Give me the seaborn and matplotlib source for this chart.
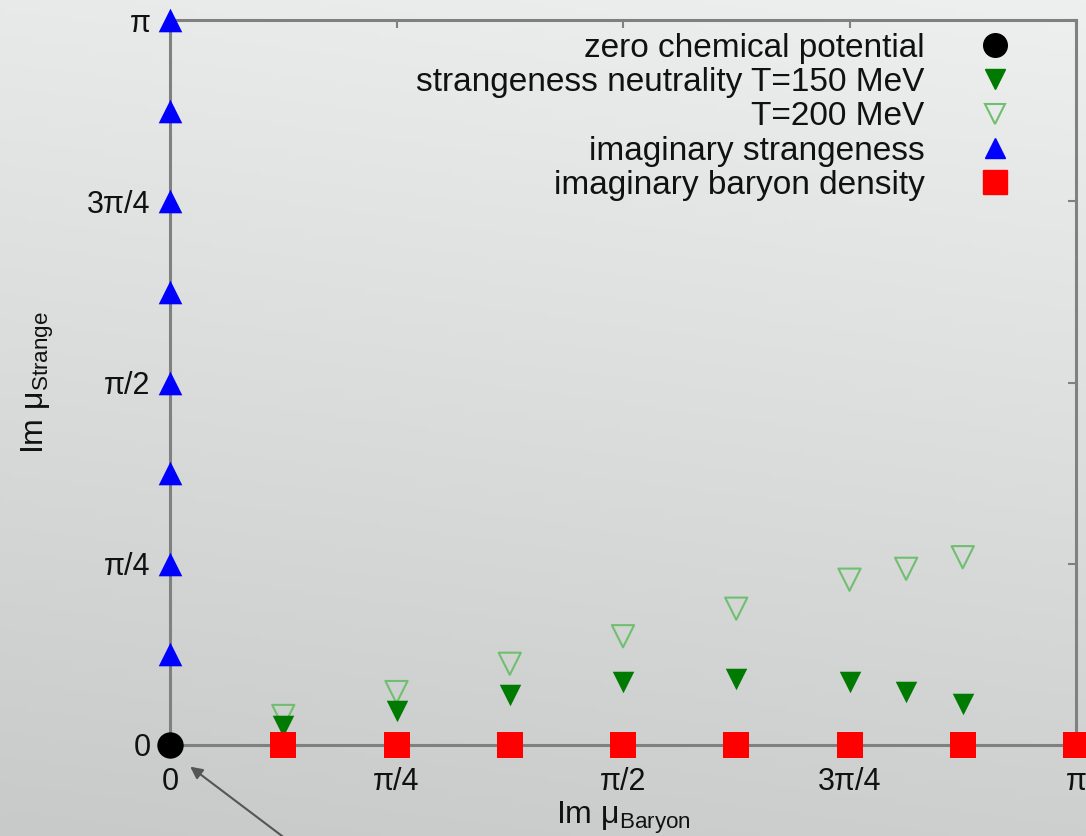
import numpy as np
import pandas as pd
import matplotlib
matplotlib.use("Agg")
import matplotlib.pyplot as plt
import seaborn as sns
from matplotlib.lines import Line2D

PI = np.pi

# ---- data (in units of pi) ----
zero_x = [0.0]
zero_y = [0.0]

sn150_x = [1/8, 2/8, 3/8, 4/8, 5/8, 6/8, 13/16, 7/8]
sn150_y = [0.026, 0.047, 0.069, 0.087, 0.091, 0.087, 0.073, 0.057]

sn200_x = [1/8, 2/8, 3/8, 4/8, 5/8, 6/8, 13/16, 7/8]
sn200_y = [0.040, 0.073, 0.112, 0.150, 0.188, 0.228, 0.243, 0.259]

imS_x = [0, 0, 0, 0, 0, 0, 0, 0]
imS_y = [1/8, 2/8, 3/8, 4/8, 5/8, 6/8, 7/8, 1.0]

imB_x = [1/8, 2/8, 3/8, 4/8, 5/8, 6/8, 7/8, 1.0]
imB_y = [0, 0, 0, 0, 0, 0, 0, 0]

tick_vals = [0, 0.25, 0.5, 0.75, 1.0]
tick_labels = ["0", "π/4", "π/2", "3π/4", "π"]

legend_labels = ["zero chemical potential",
                 "strangeness neutrality T=150 MeV",
                 "T=200 MeV",
                 "imaginary strangeness",
                 "imaginary baryon density"]

sns.set_theme(style="white")
plt.rcParams["font.family"] = ["Liberation Sans", "DejaVu Sans"]

W, H = 1086, 836
fig = plt.figure(figsize=(W / 100, H / 100), dpi=100)

# background gradient
bg = fig.add_axes([0, 0, 1, 1], zorder=-10)
yy = np.linspace(0, 1, 200)[:, None]
xx = np.linspace(0, 1, 200)[None, :]
top = np.array([238, 239, 239]) / 255
bot = np.array([200, 202, 202]) / 255
t = np.clip(yy * 0.85 + (1 - xx) * 0.15, 0, 1)
img = top[None, None, :] * (1 - t[..., None]) + bot[None, None, :] * t[..., None]
bg.imshow(img, aspect="auto", extent=[0, 1, 0, 1])
bg.axis("off")

ax = fig.add_axes([170 / W, 1 - 745 / H, (1076 - 170) / W, (745 - 20) / H])
ax.set_facecolor("none")

def df(x, y):
    return pd.DataFrame({"x": np.array(x) * PI, "y": np.array(y) * PI})

green = "#007a00"
light_green = "#6fbf6f"
sns.scatterplot(data=df(imB_x, imB_y), x="x", y="y", ax=ax, marker="s",
                s=19 ** 2, color="#ff0000", edgecolor="#ff0000", linewidth=0,
                clip_on=False, zorder=5)
sns.scatterplot(data=df(imS_x, imS_y), x="x", y="y", ax=ax, marker="^",
                s=17 ** 2, color="#0000ff", edgecolor="#0000ff", linewidth=0,
                clip_on=False, zorder=5)
sns.scatterplot(data=df(sn200_x, sn200_y), x="x", y="y", ax=ax, marker="v",
                s=16 ** 2, facecolor="none", edgecolor=light_green, linewidth=1.5,
                clip_on=False, zorder=4)
sns.scatterplot(data=df(sn150_x, sn150_y), x="x", y="y", ax=ax, marker="v",
                s=15.5 ** 2, color=green, edgecolor=green, linewidth=0,
                clip_on=False, zorder=4)
sns.scatterplot(data=df(zero_x, zero_y), x="x", y="y", ax=ax, marker="o",
                s=19 ** 2, color="black", edgecolor="black", linewidth=0,
                clip_on=False, zorder=6)

ax.set_xlim(0, PI)
ax.set_ylim(0, PI)
ticks = [v * PI for v in tick_vals]
ax.set_xticks(ticks)
ax.set_xticklabels(tick_labels)
ax.set_yticks(ticks)
ax.set_yticklabels(tick_labels)
ax.tick_params(axis="both", direction="in", length=6, width=1.5, color="#808080",
               labelsize=22, labelcolor="#111111", top=True, right=True,
               pad=14)
ax.tick_params(axis="x", pad=16)
for side in ["left", "bottom", "top", "right"]:
    ax.spines[side].set_color("#808080")
    ax.spines[side].set_linewidth(2.2)
    ax.spines[side].set_zorder(2)

ax.set_xlabel(r"Im $\mathregular{\mu_{Baryon}}$", fontsize=23, color="#111111",
              labelpad=2)
ax.set_ylabel(r"Im $\mathregular{\mu_{Strange}}$", fontsize=23, color="#111111",
              labelpad=22)

handles = [
    Line2D([], [], ls="none", marker="o", ms=17, color="black", mec="black"),
    Line2D([], [], ls="none", marker="v", ms=14, color=green, mec=green),
    Line2D([], [], ls="none", marker="v", ms=14, mfc="none", mec=light_green, mew=1.5),
    Line2D([], [], ls="none", marker="^", ms=15, color="#0000ff", mec="#0000ff"),
    Line2D([], [], ls="none", marker="s", ms=17, color="#ff0000", mec="#ff0000"),
]
leg = ax.legend(handles, legend_labels, loc="upper right", markerfirst=False,
                frameon=False, fontsize=24, labelspacing=0.1,
                handlelength=1.0, handletextpad=1.6, borderpad=0,
                bbox_to_anchor=(1028 / W, 1 - 16 / H),
                bbox_transform=fig.transFigure)
for txt in leg.get_texts():
    txt.set_color("#111111")

ax.annotate("", xy=(188, H - 765), xytext=(290, -6), xycoords="figure pixels",
            textcoords="figure pixels",
            arrowprops=dict(arrowstyle="-|>", color="#555555", lw=1.5,
                            mutation_scale=18),
            annotation_clip=False)

fig.savefig("out.png", dpi=100)
